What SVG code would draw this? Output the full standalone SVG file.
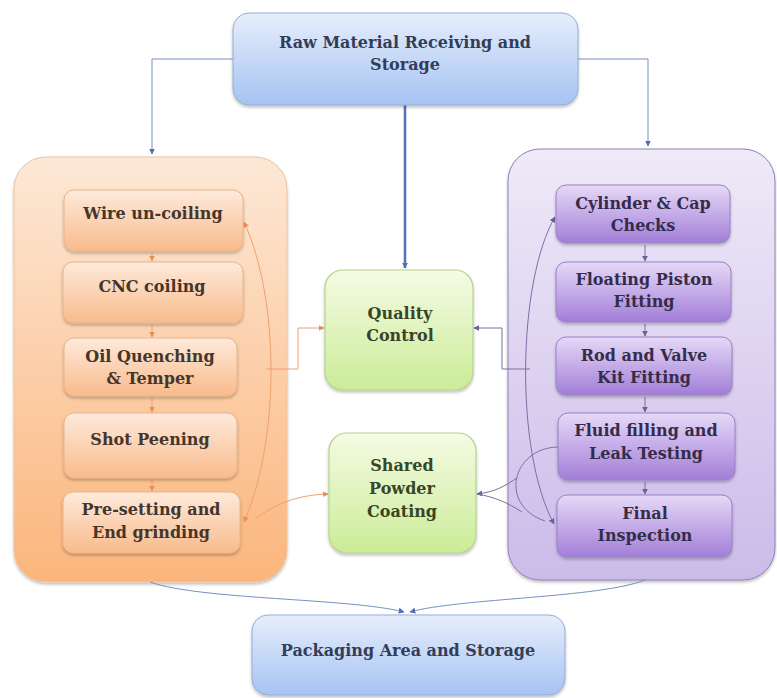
<svg xmlns="http://www.w3.org/2000/svg" width="777" height="698" viewBox="0 0 777 698">
  <defs>
    <linearGradient id="gBlue" x1="0" y1="0" x2="0" y2="1">
      <stop offset="0" stop-color="#e6eefc"/>
      <stop offset="1" stop-color="#a6c3f2"/>
    </linearGradient>
    <linearGradient id="gOrangeC" x1="0" y1="0" x2="0" y2="1">
      <stop offset="0" stop-color="#fde8d6"/>
      <stop offset="1" stop-color="#fbb57c"/>
    </linearGradient>
    <linearGradient id="gOrange" x1="0" y1="0" x2="0" y2="1">
      <stop offset="0" stop-color="#feeadb"/>
      <stop offset="1" stop-color="#f8bb8c"/>
    </linearGradient>
    <linearGradient id="gPurpleC" x1="0" y1="0" x2="0" y2="1">
      <stop offset="0" stop-color="#efeaf8"/>
      <stop offset="1" stop-color="#cbbbe9"/>
    </linearGradient>
    <linearGradient id="gPurple" x1="0" y1="0" x2="0" y2="1">
      <stop offset="0" stop-color="#e6d9f7"/>
      <stop offset="1" stop-color="#a27ed8"/>
    </linearGradient>
    <linearGradient id="gGreen" x1="0" y1="0" x2="0" y2="1">
      <stop offset="0" stop-color="#f5fbe4"/>
      <stop offset="1" stop-color="#cbec98"/>
    </linearGradient>
    <filter id="shadow" x="-10%" y="-10%" width="120%" height="125%">
      <feDropShadow dx="0" dy="2" stdDeviation="1.6" flood-color="#000" flood-opacity="0.25"/>
    </filter>
    <marker id="aBlue" viewBox="0 0 10 10" refX="9" refY="5" markerWidth="6" markerHeight="6" markerUnits="userSpaceOnUse" orient="auto-start-reverse">
      <path d="M0,0 L10,5 L0,10 z" fill="#4f6fb0"/>
    </marker>
    <marker id="aOrange" viewBox="0 0 10 10" refX="9" refY="5" markerWidth="6" markerHeight="6" markerUnits="userSpaceOnUse" orient="auto-start-reverse">
      <path d="M0,0 L10,5 L0,10 z" fill="#e8905a"/>
    </marker>
    <marker id="aPurple" viewBox="0 0 10 10" refX="9" refY="5" markerWidth="6" markerHeight="6" markerUnits="userSpaceOnUse" orient="auto-start-reverse">
      <path d="M0,0 L10,5 L0,10 z" fill="#6b6096"/>
    </marker>
    <style>
      .t { font-family: "DejaVu Serif", "Liberation Serif", serif; font-weight: bold; font-size: 16px; text-anchor: middle; }
      .tb { fill: #343d58; }
      .to { fill: #45362c; }
      .tp { fill: #352c4a; }
      .tg { fill: #384628; }
      .blue { fill: url(#gBlue); stroke: #93add6; stroke-width: 1; }
      .oc { fill: url(#gOrangeC); stroke: #efc29c; stroke-width: 1; }
      .ob { fill: url(#gOrange); stroke: #eab48a; stroke-width: 1; }
      .pc { fill: url(#gPurpleC); stroke: #8f80b4; stroke-width: 1; }
      .pb { fill: url(#gPurple); stroke: #9a80c4; stroke-width: 1; }
      .gb { fill: url(#gGreen); stroke: #b5d48c; stroke-width: 1.2; }
      .cb { fill: none; stroke: #7590c4; stroke-width: 1; }
      .co { fill: none; stroke: #eea070; stroke-width: 1; }
      .cp { fill: none; stroke: #7a70a4; stroke-width: 1; }
    </style>
  </defs>

  <rect width="777" height="698" fill="#ffffff"/>

  <!-- group containers -->
  <g id="spring-line">
    <rect class="oc" x="14" y="157" width="273" height="425" rx="32" filter="url(#shadow)"/>
  </g>
  <g id="shock-line">
    <rect class="pc" x="508" y="149" width="267" height="431" rx="32" filter="url(#shadow)"/>
  </g>

  <!-- connectors -->
  <g id="connectors">
    <path class="cb" d="M233,59 H152 V154" marker-end="url(#aBlue)"/>
    <path class="cb" d="M578,59 H648 V146" marker-end="url(#aBlue)"/>
    <path d="M405,105 V268" fill="none" stroke="#5677b5" stroke-width="2.6" marker-end="url(#aBlue)"/>
    <path class="co" d="M266,369 H298 V328 H324" marker-end="url(#aOrange)"/>
    <path class="cp" d="M530,369 H502 V328 H474" marker-end="url(#aPurple)"/>
    <path class="co" d="M244,222 C 280,300 280,440 244,522" marker-start="url(#aOrange)" marker-end="url(#aOrange)"/>
    <path class="co" d="M256,518 C 275,505 295,495 328,494" marker-end="url(#aOrange)"/>
    <path class="cp" d="M555,217 C 518,280 514,450 554,524" marker-start="url(#aPurple)" marker-end="url(#aPurple)"/>
    <path class="cp" d="M558,447 C 512,448 498,505 545,521"/>
    <path class="cp" d="M517,478 C 505,486 495,492 477,494" marker-end="url(#aPurple)"/>
    <path class="cp" d="M477,494 C 495,497 508,503 522,512"/>
    <path class="cb" d="M150,582 C 200,600 350,598 404,612" marker-end="url(#aBlue)"/>
    <path class="cb" d="M645,580 C 600,598 460,598 410,612" marker-end="url(#aBlue)"/>
    <!-- step arrows inside the spring line -->
    <path class="co" d="M152,253 V261" marker-end="url(#aOrange)"/>
    <path class="co" d="M152,325 V337" marker-end="url(#aOrange)"/>
    <path class="co" d="M152,398 V412" marker-end="url(#aOrange)"/>
    <path class="co" d="M152,480 V491" marker-end="url(#aOrange)"/>
    <!-- step arrows inside the shock line -->
    <path class="cp" d="M645,245 V261" marker-end="url(#aPurple)"/>
    <path class="cp" d="M645,324 V336" marker-end="url(#aPurple)"/>
    <path class="cp" d="M645,397 V412" marker-end="url(#aPurple)"/>
    <path class="cp" d="M645,482 V494" marker-end="url(#aPurple)"/>
  </g>

  <!-- main nodes -->
  <g id="raw-material">
    <rect class="blue" x="233" y="13" width="345" height="92" rx="16" filter="url(#shadow)"/>
    <text class="t tb" x="405" y="48">Raw Material Receiving and</text>
    <text class="t tb" x="405" y="70">Storage</text>
  </g>
  <g id="quality-control">
    <rect class="gb" x="325" y="270" width="148" height="120" rx="18" filter="url(#shadow)"/>
    <text class="t tg" x="400" y="319">Quality</text>
    <text class="t tg" x="400" y="341">Control</text>
  </g>
  <g id="powder-coating">
    <rect class="gb" x="329" y="433" width="147" height="120" rx="18" filter="url(#shadow)"/>
    <text class="t tg" x="402" y="471">Shared</text>
    <text class="t tg" x="402" y="494">Powder</text>
    <text class="t tg" x="402" y="517">Coating</text>
  </g>
  <g id="packaging">
    <rect class="blue" x="252" y="615" width="313" height="80" rx="16" filter="url(#shadow)"/>
    <text class="t tb" x="408" y="656">Packaging Area and Storage</text>
  </g>

  <!-- spring line steps -->
  <g id="wire-uncoiling">
    <rect class="ob" x="64" y="190" width="179" height="61" rx="10" filter="url(#shadow)"/>
    <text class="t to" x="153" y="219">Wire un-coiling</text>
  </g>
  <g id="cnc-coiling">
    <rect class="ob" x="63" y="262" width="180" height="61" rx="10" filter="url(#shadow)"/>
    <text class="t to" x="152" y="292">CNC coiling</text>
  </g>
  <g id="oil-quenching">
    <rect class="ob" x="64" y="338" width="173" height="58" rx="10" filter="url(#shadow)"/>
    <text class="t to" x="150" y="362">Oil Quenching</text>
    <text class="t to" x="150" y="384">&amp; Temper</text>
  </g>
  <g id="shot-peening">
    <rect class="ob" x="64" y="413" width="173" height="65" rx="10" filter="url(#shadow)"/>
    <text class="t to" x="150" y="445">Shot Peening</text>
  </g>
  <g id="pre-setting">
    <rect class="ob" x="63" y="492" width="177" height="61" rx="10" filter="url(#shadow)"/>
    <text class="t to" x="151" y="515">Pre-setting and</text>
    <text class="t to" x="151" y="538">End grinding</text>
  </g>

  <!-- shock line steps -->
  <g id="cylinder-checks">
    <rect class="pb" x="556" y="185" width="174" height="58" rx="10" filter="url(#shadow)"/>
    <text class="t tp" x="643" y="209">Cylinder &amp; Cap</text>
    <text class="t tp" x="643" y="231">Checks</text>
  </g>
  <g id="piston-fitting">
    <rect class="pb" x="556" y="262" width="175" height="60" rx="10" filter="url(#shadow)"/>
    <text class="t tp" x="644" y="285">Floating Piston</text>
    <text class="t tp" x="644" y="307">Fitting</text>
  </g>
  <g id="rod-valve">
    <rect class="pb" x="556" y="337" width="176" height="58" rx="10" filter="url(#shadow)"/>
    <text class="t tp" x="644" y="361">Rod and Valve</text>
    <text class="t tp" x="644" y="383">Kit Fitting</text>
  </g>
  <g id="fluid-filling">
    <rect class="pb" x="558" y="413" width="177" height="67" rx="10" filter="url(#shadow)"/>
    <text class="t tp" x="646" y="436">Fluid filling and</text>
    <text class="t tp" x="646" y="459">Leak Testing</text>
  </g>
  <g id="final-inspection">
    <rect class="pb" x="557" y="495" width="175" height="62" rx="10" filter="url(#shadow)"/>
    <text class="t tp" x="645" y="519">Final</text>
    <text class="t tp" x="645" y="541">Inspection</text>
  </g>
</svg>
